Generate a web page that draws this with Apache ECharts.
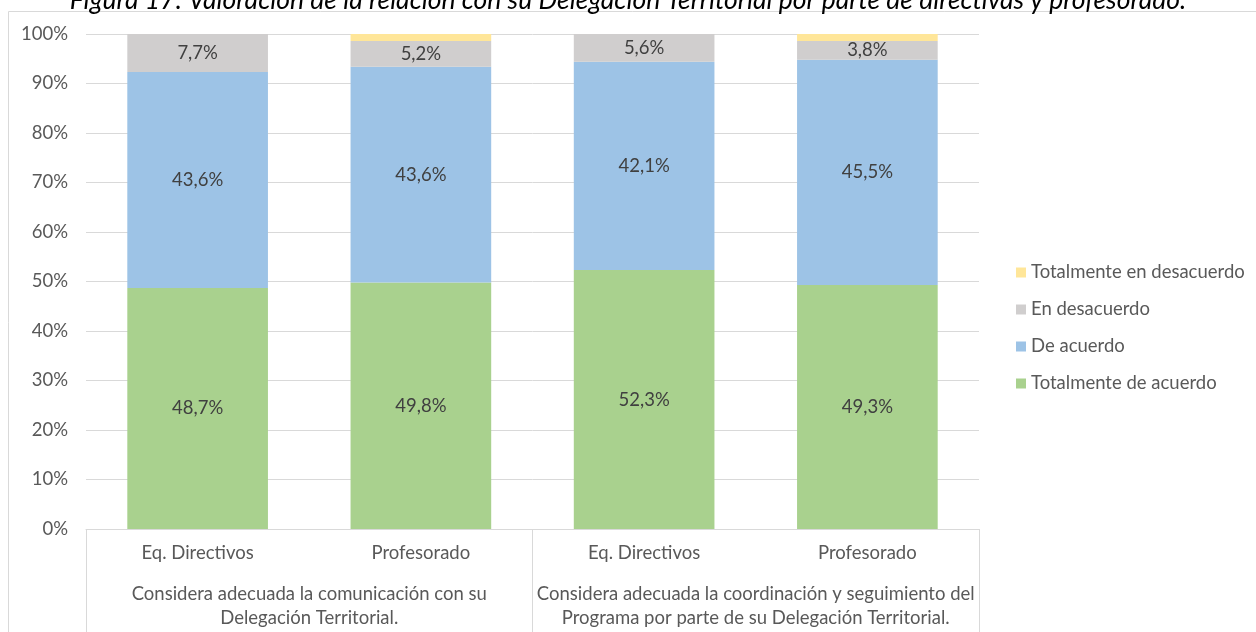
<!DOCTYPE html>
<html>
<head>
<meta charset="utf-8">
<script src="https://cdn.jsdelivr.net/npm/echarts@6/dist/echarts.min.js"></script>
<style>
  html, body { margin: 0; padding: 0; background: #fff; }
  #main { width: 1256px; height: 632px; }
</style>
</head>
<body>
<div id="main"></div>
<script>
// datos de la figura 17
var grupos = ['Eq. Directivos', 'Profesorado', 'Eq. Directivos', 'Profesorado'];
var preguntas = [
    'Considera adecuada la comunicación con su\nDelegación Territorial.',
    'Considera adecuada la coordinación y seguimiento del\nPrograma por parte de su Delegación Territorial.'
];
var totalAcuerdo = [48.7, 49.8, 52.3, 49.3];
var deAcuerdo = [43.6, 43.6, 42.1, 45.5];
var enDesacuerdo = [7.7, 5.2, 5.6, 3.8];
var totalDesacuerdo = [0, 1.4, 0, 1.4];
var yTicks = [0, 10, 20, 30, 40, 50, 60, 70, 80, 90, 100];

var fuente = 'Lato';
var tam = 18.5;

function serie(nombre, datos, color, etiqueta) {
    return {
        name: nombre,
        type: 'bar',
        stack: 'total',
        barWidth: '63%',
        data: datos,
        itemStyle: { color: color },
        label: {
            show: etiqueta,
            position: 'inside',
            color: '#404040',
            fontFamily: fuente,
            fontSize: tam,
            formatter: function (p) {
                return p.value.toFixed(1).replace('.', ',') + '%';
            }
        }
    };
}

var myChart = echarts.init(document.getElementById('main'));
var option = {
    animation: false,
    title: {
        text: 'Figura 17: Valoración de la relación con su Delegación Territorial por parte de directivas y profesorado.',
        left: 'center',
        top: -18,
        textStyle: {
            fontFamily: fuente,
            fontStyle: 'italic',
            fontWeight: 'normal',
            fontSize: 26.5,
            color: '#000'
        }
    },
    graphic: [{
        type: 'rect',
        shape: { x: 8.5, y: 11.5, width: 1300, height: 700 },
        style: { fill: 'none', stroke: '#D9D9D9', lineWidth: 1 },
        silent: true
    }],
    grid: { left: 86, right: 277, top: 34, bottom: 103 },
    legend: {
        orient: 'vertical',
        left: 1011,
        top: 258,
        itemWidth: 10,
        itemHeight: 10,
        itemGap: 18,
        icon: 'rect',
        textStyle: { fontFamily: fuente, fontSize: tam, color: '#595959' },
        data: ['Totalmente en desacuerdo', 'En desacuerdo', 'De acuerdo', 'Totalmente de acuerdo']
    },
    xAxis: [{
        type: 'category',
        data: grupos,
        position: 'bottom',
        axisLine: { lineStyle: { color: '#D9D9D9' } },
        axisTick: { show: false },
        axisLabel: { color: '#595959', fontFamily: fuente, fontSize: tam, margin: 15 }
    }, {
        type: 'category',
        data: preguntas,
        position: 'bottom',
        axisLine: { show: false },
        axisTick: { show: true, length: 103, interval: 0, lineStyle: { color: '#D9D9D9' } },
        axisLabel: { color: '#595959', fontFamily: fuente, fontSize: tam, margin: 53, lineHeight: 24, interval: 0 }
    }],
    yAxis: {
        type: 'value',
        min: yTicks[0],
        max: yTicks[yTicks.length - 1],
        interval: 10,
        axisLine: { show: false },
        axisTick: { show: false },
        splitLine: { lineStyle: { color: '#D9D9D9' } },
        axisLabel: {
            color: '#595959',
            fontFamily: fuente,
            fontSize: tam,
            margin: 18,
            formatter: '{value}%'
        }
    },
    series: [
        serie('Totalmente de acuerdo', totalAcuerdo, '#A9D18E', true),
        serie('De acuerdo', deAcuerdo, '#9DC3E6', true),
        serie('En desacuerdo', enDesacuerdo, '#D0CECE', true),
        serie('Totalmente en desacuerdo', totalDesacuerdo, '#FFE699', false)
    ]
};
myChart.setOption(option);
</script>
</body>
</html>
